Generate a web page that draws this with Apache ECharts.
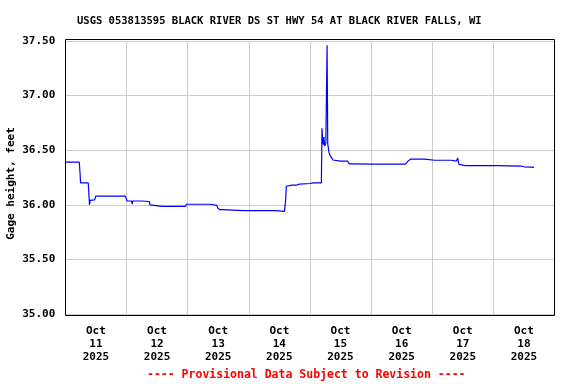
<!DOCTYPE html>
<html><head><meta charset="utf-8">
<script src="https://cdn.jsdelivr.net/npm/echarts@6/dist/echarts.min.js"></script>
<style>html,body{margin:0;padding:0;background:#fff}#c{width:576px;height:384px}</style>
</head><body><div id="c"></div>
<script>
// hours since Oct 11 2025 00:00
var hours = [0,2,4,5.5,5.75,6.0,7.5,9.0,9.25,9.5,9.75,11.5,11.75,12.0,16,20,23.5,23.9,24.25,26.0,26.25,26.5,30,33.0,33.25,33.5,38.0,38.25,38.5,40.5,40.75,41.0,42.5,42.75,43.0,47.25,47.5,52,57.0,57.5,59.5,59.75,60.0,60.5,61.0,61.5,62.0,70,82.5,82.75,86.0,86.25,86.5,86.75,89,90.75,91.0,91.25,92.0,92.5,96,97.5,100.5,100.75,101.0,101.25,101.5,101.75,102.0,102.25,102.5,102.75,103.0,103.25,103.5,103.75,104.0,104.5,105.0,105.5,108,110.75,111.0,111.5,112.0,112.5,113,120,125,133.5,134.0,134.5,135.5,137,137.5,138,141,141.5,145,150,151.5,152,153.5,154.0,154.25,154.5,154.75,157,157.5,158,160,160.5,161,170,178,178.5,179,180,183,184];
var gageFeet = [36.39,36.39,36.39,36.39,36.30,36.20,36.20,36.20,36.10,36.00,36.04,36.045,36.06,36.08,36.08,36.08,36.08,36.06,36.035,36.035,36.005,36.035,36.035,36.03,36.00,35.985,35.985,35.975,35.985,35.985,35.975,35.985,35.985,35.975,35.985,35.985,36.005,36.005,36.005,35.995,35.995,35.975,35.96,35.955,35.95,35.955,35.945,35.946,35.946,35.938,35.94,35.95,36.05,36.17,36.18,36.18,36.17,36.18,36.19,36.195,36.195,36.20,36.20,36.70,36.60,36.55,36.62,36.54,36.54,36.56,37.00,37.46,36.56,36.52,36.48,36.46,36.45,36.43,36.41,36.40,36.40,36.40,36.385,36.375,36.385,36.375,36.372,36.372,36.372,36.372,36.39,36.40,36.418,36.418,36.41,36.418,36.418,36.408,36.408,36.408,36.408,36.40,36.40,36.43,36.40,36.37,36.358,36.358,36.348,36.358,36.358,36.348,36.358,36.358,36.355,36.348,36.355,36.348,36.345,36.342];
var dayLabels = ['Oct\n11\n2025','Oct\n12\n2025','Oct\n13\n2025','Oct\n14\n2025','Oct\n15\n2025','Oct\n16\n2025','Oct\n17\n2025','Oct\n18\n2025'];
var titleText = 'USGS 053813595 BLACK RIVER DS ST HWY 54 AT BLACK RIVER FALLS, WI';
var yName = 'Gage height, feet';
var noteText = '---- Provisional Data Subject to Revision ----';

var FONT = '"DejaVu Sans Mono", monospace';
var data = hours.map(function(h,i){return [h, gageFeet[i]];});
var chart = echarts.init(document.getElementById('c'), null, {renderer:'canvas'});
chart.setOption({
  animation:false,
  backgroundColor:'#ffffff',
  title:[
    {text:titleText, left:77, top:16, padding:0, textStyle:{fontFamily:FONT, fontWeight:'bold', fontSize:10.5, color:'#000'}},
    {text:noteText, left:147, top:369, padding:0, textStyle:{fontFamily:FONT, fontWeight:'bold', fontSize:11.5, color:'#ff0000'}}
  ],
  grid:{left:65.3, right:21.5, top:41, bottom:70, containLabel:false},
  xAxis:[
    {type:'value', min:0, max:192, interval:24,
     axisLine:{show:false}, axisTick:{show:false}, axisLabel:{show:false},
     splitLine:{show:true, lineStyle:{color:'#cccccc', width:1}}},
    {type:'category', data:dayLabels, boundaryGap:true, position:'bottom',
     axisLine:{show:false}, axisTick:{show:false}, splitLine:{show:false},
     axisLabel:{margin:11, fontFamily:FONT, fontWeight:'bold', fontSize:11, color:'#000', lineHeight:13, interval:0}}
  ],
  yAxis:{type:'value', min:35, max:37.5, interval:0.5,
    axisLine:{show:false}, axisTick:{show:false},
    axisLabel:{margin:10, fontFamily:FONT, fontWeight:'bold', fontSize:11, color:'#000',
      formatter:function(v){return v.toFixed(2);}},
    splitLine:{show:true, lineStyle:{color:'#cccccc', width:1}}},
  graphic:[
    {type:'rect', shape:{x:65.5, y:39.5, width:489, height:276}, style:{fill:null, stroke:'#000', lineWidth:1}, z:100},
    {type:'text', x:11, y:183.5, rotation:Math.PI/2,
     style:{text:yName, fontFamily:FONT, fontWeight:'bold', fontSize:11, fill:'#000', align:'center', verticalAlign:'middle'}}
  ],
  series:[{type:'line', xAxisIndex:0, data:data, showSymbol:false, symbol:'none',
    lineStyle:{color:'#0000ff', width:1.2}, z:10}]
});
</script></body></html>
